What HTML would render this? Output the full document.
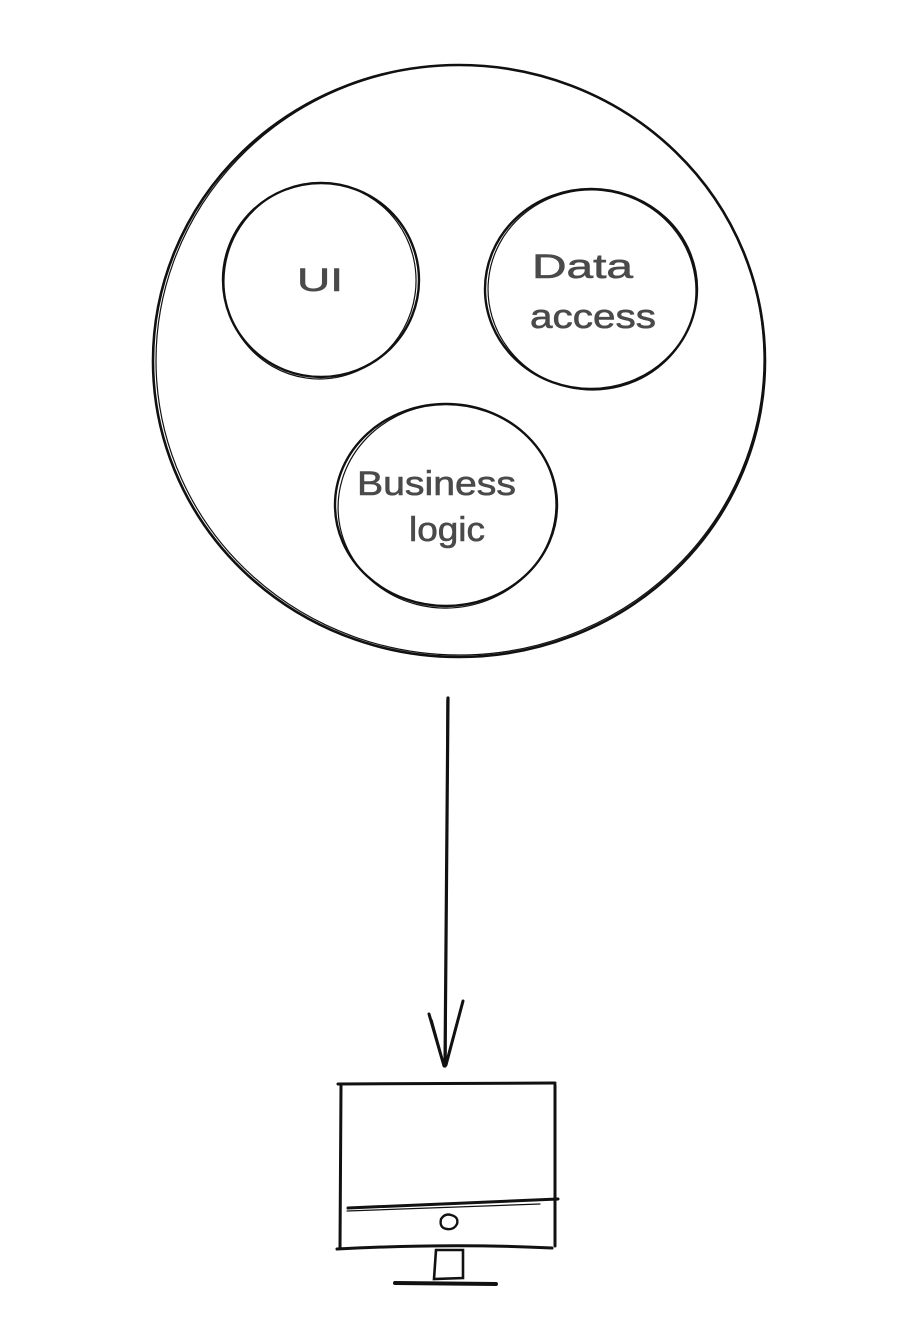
<!DOCTYPE html>
<html><head><meta charset="utf-8"><style>
html,body{margin:0;padding:0;background:#fff;}
svg{display:block;}
text{font-family:"Liberation Sans",sans-serif;fill:#4a4a4a;stroke:#4a4a4a;stroke-width:0.6;}
</style></head><body>
<svg width="900" height="1342" viewBox="0 0 900 1342" xmlns="http://www.w3.org/2000/svg">
<g fill="none" stroke="#111" stroke-linecap="round">
  <ellipse cx="459" cy="361" rx="306" ry="296" stroke-width="2.6"/>
  <ellipse cx="460" cy="360" rx="304" ry="295" stroke-width="1.2" transform="rotate(-2 460 360)"/>
  <ellipse cx="321" cy="280" rx="98" ry="97" stroke-width="2.4"/>
  <ellipse cx="320" cy="281" rx="96" ry="98" stroke-width="1.2" transform="rotate(8 320 281)"/>
  <ellipse cx="591" cy="289" rx="106" ry="100" stroke-width="2.4"/>
  <ellipse cx="592" cy="290" rx="104" ry="100" stroke-width="1.2" transform="rotate(6 592 290)"/>
  <ellipse cx="446" cy="505" rx="111" ry="101" stroke-width="2.4"/>
  <ellipse cx="447" cy="506" rx="109" ry="102" stroke-width="1.2" transform="rotate(-6 447 506)"/>
  <path d="M448 698 L445 1066" stroke-width="3.2"/>
  <path d="M447 700 L446 1060" stroke-width="1.4"/>
  <path d="M429 1014 L444 1066 M463 1001 L446 1065" stroke-width="3"/>
  <path d="M432 1020 L443 1060 M460 1010 L447 1058" stroke-width="1.4"/>
  <path d="M338 1084 L555 1083" stroke-width="3"/>
  <path d="M341 1086 L340 1248" stroke-width="3"/>
  <path d="M555 1085 L555 1246" stroke-width="3"/>
  <path d="M337 1249 Q450 1243 552 1248" stroke-width="3"/>
  <path d="M348 1208 L558 1199" stroke-width="3"/>
  <path d="M347 1211 L540 1204" stroke-width="1.2"/>
  <path d="M441 1219 q4 -6 10 -4 q8 2 6 9 q-3 6 -10 5 q-8 -1 -6 -10z" stroke-width="2.4"/>
  <path d="M436 1250 L434 1279 L463 1278 L463 1250 Z" stroke-width="2.6"/>
  <path d="M395 1283 L496 1284" stroke-width="4"/>
</g>
<text x="297" y="291" font-size="32" textLength="46" lengthAdjust="spacingAndGlyphs">UI</text>
<text x="532" y="278" font-size="34" textLength="101" lengthAdjust="spacingAndGlyphs">Data</text>
<text x="530" y="328" font-size="34" textLength="126" lengthAdjust="spacingAndGlyphs">access</text>
<text x="357" y="495" font-size="34" textLength="159" lengthAdjust="spacingAndGlyphs">Business</text>
<text x="409" y="541" font-size="34" textLength="76" lengthAdjust="spacingAndGlyphs">logic</text>
</svg>
</body></html>
